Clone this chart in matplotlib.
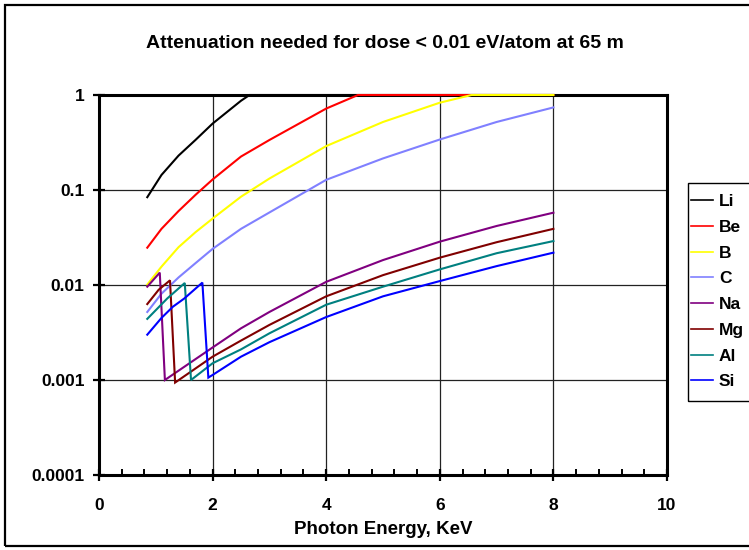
import matplotlib
matplotlib.use("Agg")
import matplotlib.pyplot as plt
from matplotlib.ticker import FixedLocator, MultipleLocator, FixedFormatter
from matplotlib.patches import Rectangle

plt.rcParams['font.family'] = ['Liberation Sans', 'DejaVu Sans']

# ---------------- data ----------------
li_x = [0.85, 1.1, 1.4, 1.7, 2.0, 2.5, 2.65, 8.0]
li_y = [0.084, 0.144, 0.23, 0.337, 0.50, 0.87, 1.0, 1.0]

be_x = [0.85, 1.1, 1.4, 1.7, 2.0, 2.5, 3.0, 4.0, 4.56, 8.0]
be_y = [0.0247, 0.039, 0.060, 0.089, 0.129, 0.225, 0.336, 0.72, 1.0, 1.0]

b_x = [0.85, 1.1, 1.4, 1.7, 2.0, 2.5, 3.0, 4.0, 5.0, 6.0, 6.56, 8.0]
b_y = [0.0101, 0.0156, 0.025, 0.036, 0.050, 0.085, 0.132, 0.29, 0.52, 0.83, 1.0, 1.0]

c_x = [0.85, 1.1, 1.4, 1.7, 2.0, 2.5, 3.0, 4.0, 5.0, 6.0, 7.0, 8.0]
c_y = [0.0052, 0.0081, 0.012, 0.017, 0.024, 0.039, 0.058, 0.128, 0.215, 0.34, 0.52, 0.74]

na_x = [0.85, 1.07, 1.16, 2.0, 2.5, 3.0, 4.0, 5.0, 6.0, 7.0, 8.0]
na_y = [0.0096, 0.0135, 0.0010, 0.0022, 0.0035, 0.0052, 0.0108, 0.0183, 0.0286, 0.0418, 0.0577]

mg_x = [0.85, 1.05, 1.25, 1.34, 2.0, 2.5, 3.0, 4.0, 5.0, 6.0, 7.0, 8.0]
mg_y = [0.0063, 0.0089, 0.0112, 0.00094, 0.00176, 0.0026, 0.0038, 0.0076, 0.0127, 0.0194, 0.0282, 0.039]

al_x = [0.85, 1.2, 1.51, 1.62, 2.0, 2.5, 3.0, 4.0, 5.0, 6.0, 7.0, 8.0]
al_y = [0.0044, 0.0072, 0.0105, 0.0010, 0.0015, 0.0021, 0.0031, 0.0062, 0.0096, 0.0146, 0.0216, 0.029]

si_x = [0.85, 1.1, 1.3, 1.5, 1.82, 1.925, 2.0, 2.5, 3.0, 4.0, 5.0, 6.0, 7.0, 8.0]
si_y = [0.0030, 0.0045, 0.0059, 0.0072, 0.0106, 0.00106, 0.00113, 0.00176, 0.0025, 0.0046, 0.0076, 0.0110, 0.0158, 0.0219]

series_names = ['Li', 'Be', 'B', 'C', 'Na', 'Mg', 'Al', 'Si']
series_x = [li_x, be_x, b_x, c_x, na_x, mg_x, al_x, si_x]
series_y = [li_y, be_y, b_y, c_y, na_y, mg_y, al_y, si_y]
series_colors = ['#000000', '#FF0000', '#FFFF00', '#8080FF',
                 '#800080', '#800000', '#008080', '#0000FF']

x_ticks = [0, 2, 4, 6, 8, 10]
y_ticks = [0.0001, 0.001, 0.01, 0.1, 1]
y_tick_labels = ['0.0001', '0.001', '0.01', '0.1', '1']

title = 'Attenuation needed for dose < 0.01 eV/atom at 65 m'
x_label = 'Photon Energy, KeV'

# ---------------- figure ----------------
W, H = 749, 550
fig = plt.figure(figsize=(W / 100, H / 100), dpi=100)
fig.patch.set_facecolor('white')

# outer chart frame
fig.patches.append(Rectangle((5 / W, 1 - 546 / H), 760 / W, 541 / H,
                             transform=fig.transFigure, fill=False,
                             edgecolor='black', linewidth=1.6, zorder=0))
# legend frame
fig.patches.append(Rectangle((688 / W, 1 - 401 / H), 80 / W, 218 / H,
                             transform=fig.transFigure, fill=False,
                             edgecolor='black', linewidth=1.0, zorder=0))

ax = fig.add_axes([99 / W, 1 - 475 / H, (667 - 99) / W, (475 - 95) / H])
ax.set_yscale('log')
ax.set_xlim(0, 10)
ax.set_ylim(0.0001, 1)

for name, xs, ys, col in zip(series_names, series_x, series_y, series_colors):
    ax.plot(xs, ys, color=col, lw=1.5, label=name, zorder=3, clip_on=False,
            solid_joinstyle='miter')

ax.xaxis.set_major_locator(FixedLocator(x_ticks))
ax.xaxis.set_minor_locator(MultipleLocator(0.4))
ax.yaxis.set_major_locator(FixedLocator(y_ticks))
ax.yaxis.set_major_formatter(FixedFormatter(y_tick_labels))
ax.yaxis.set_minor_locator(FixedLocator([]))

ax.grid(True, which='major', color='#222222', lw=0.9, zorder=1)
ax.set_axisbelow(True)

for s in ax.spines.values():
    s.set_linewidth(2.2)
    s.set_color('black')

ax.tick_params(axis='both', which='major', direction='inout', length=9,
               width=1.6, labelsize=12.5, pad=6)
ax.tick_params(axis='x', which='major', pad=12)
ax.tick_params(axis='x', which='minor', direction='in', length=4, width=1.4)
for lab in ax.get_xticklabels() + ax.get_yticklabels():
    lab.set_fontweight('bold')

ax.set_xlabel(x_label, fontsize=13.5, fontweight='bold', labelpad=6)
fig.text(385 / W, 1 - 44 / H, title, ha='center', va='center',
         fontsize=14, fontweight='bold')

leg = fig.legend(loc='upper left', bbox_to_anchor=(691 / W, 1 - 194 / H),
                 bbox_transform=fig.transFigure, frameon=False,
                 handlelength=1.25, handletextpad=0.35, borderpad=0,
                 labelspacing=0.61, prop={'weight': 'bold', 'size': 12.5},
                 borderaxespad=0)
leg.set_zorder(5)
for line in leg.get_lines():
    line.set_linewidth(1.2)

fig.savefig('out.png', dpi=100)
